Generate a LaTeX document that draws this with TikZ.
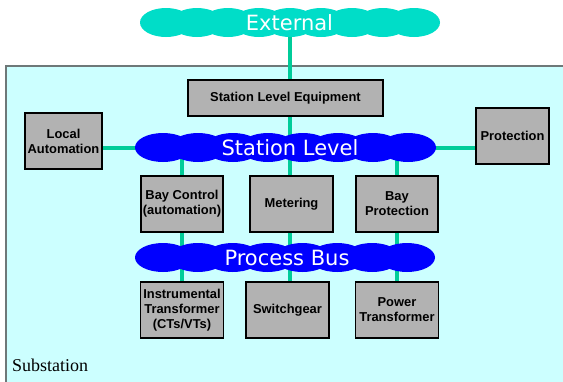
\documentclass[tikz,border=0pt]{standalone}
\usepackage{fontspec}
\setmainfont{Liberation Sans}
\newfontfamily\cloudfont{DejaVu Sans}
\newfontfamily\seriffont{Liberation Serif}

\pgfdeclarelayer{bg}
\pgfdeclarelayer{wires}
\pgfsetlayers{bg,wires,main}

\definecolor{subfill}{RGB}{204,255,255}
\definecolor{subedge}{RGB}{110,120,120}
\definecolor{boxgray}{RGB}{178,178,178}
\definecolor{wire}{RGB}{0,204,153}
\definecolor{extcloud}{RGB}{0,221,200}
\definecolor{buscloud}{RGB}{0,0,255}

\tikzset{
  unitbox/.style={draw=black, line width=1.3pt, fill=boxgray, align=center,
    font=\fontsize{12.9}{15}\selectfont\bfseries, inner sep=0pt},
  wireline/.style={draw=wire, line width=4pt},
  cloudtext/.style={text=white, font=\cloudfont\fontsize{21}{24}\selectfont, inner sep=0pt},
}

% a bus drawn as a row of overlapping ellipses: x0, x1, cy, count, rx, ry, colour
\newcommand\cloudrow[7]{%
  \pgfmathsetmacro\cstep{(#2-#1-2*#5)/(#4-1)}%
  \foreach \k in {1,...,#4}{%
    \fill[#7] ({#1+#5+(\k-1)*\cstep}, #3) ellipse [x radius=#5pt, y radius=#6pt];
  }%
}

\begin{document}
\begin{tikzpicture}[x=1pt, y=-1pt]
  \useasboundingbox (0,0) rectangle (563,381);
  \clip (0,0) rectangle (563,381);

  % substation area
  \begin{pgfonlayer}{bg}
    \filldraw[fill=subfill, draw=subedge, line width=1.5pt] (6,66) rectangle (570,390);
  \end{pgfonlayer}
  \node[anchor=base west, inner sep=0pt, font=\seriffont\fontsize{18}{20}\selectfont] (subl) at (12,371) {Substation};

  % buses
  \cloudrow{140}{440}{22.5}{9}{26}{14.5}{extcloud}
  \node[cloudtext] (ext) at (289.5,22.5) {External};

  \cloudrow{135}{436}{147.5}{8}{28}{14.5}{buscloud}
  \node[cloudtext] (sl) at (290,147.5) {Station Level};

  \cloudrow{135}{435}{257.5}{8}{28}{14.5}{buscloud}
  \node[cloudtext] (pb) at (287,257.5) {Process Bus};

  % equipment
  \node[unitbox, minimum width=195pt, minimum height=36pt] (sle) at (285.5,98) {Station Level Equipment};
  \node[unitbox, minimum width=77pt, minimum height=56pt] (la) at (63.5,141) {Local\\Automation};
  \node[unitbox, minimum width=73pt, minimum height=56pt] (prot) at (512.5,136) {Protection};

  \node[unitbox, minimum width=82pt, minimum height=56pt] (bc) at (182,204) {Bay Control\\(automation)};
  \node[unitbox, minimum width=83pt, minimum height=56pt] (met) at (291.5,204) {Metering};
  \node[unitbox, minimum width=82pt, minimum height=56pt] (bp) at (397,204) {Bay\\Protection};

  \node[unitbox, minimum width=83pt, minimum height=56pt] (it) at (182,310) {Instrumental\\Transformer\\(CTs/VTs)};
  \node[unitbox, minimum width=83pt, minimum height=56pt] (sw) at (287.5,310) {Switchgear};
  \node[unitbox, minimum width=83pt, minimum height=56pt] (pt) at (397,310) {Power\\Transformer};

  % links
  \begin{pgfonlayer}{wires}
    \draw[wireline] (ext) -- (ext |- sle.north);
    \draw[wireline] (ext |- sle.south) -- (ext |- sl);
    \draw[wireline] (la.east |- sl) -- (sl);
    \draw[wireline] (prot.west |- sl) -- (sl);
    \draw[wireline] (bc |- sl) -- (bc |- it.north);
    \draw[wireline] (sl) -- (sl |- sw.north);
    \draw[wireline] (bp |- sl) -- (bp |- pt.north);
  \end{pgfonlayer}
\end{tikzpicture}
\end{document}
